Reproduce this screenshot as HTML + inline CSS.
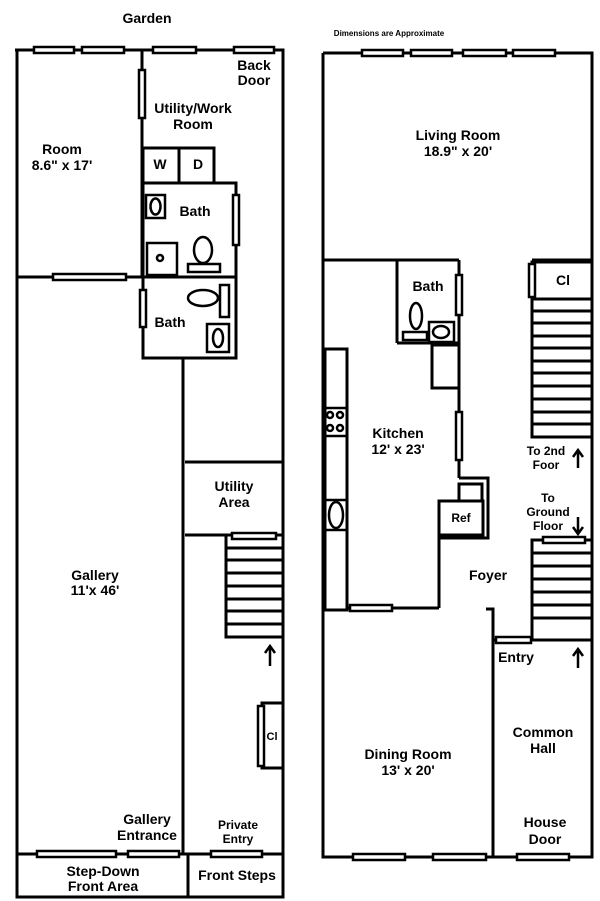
<!DOCTYPE html>
<html><head><meta charset="utf-8"><style>
html,body{margin:0;padding:0;background:#fff;}
svg{display:block;}
text{font-family:"Liberation Sans",sans-serif;font-weight:bold;fill:#000;text-anchor:middle;}
</style></head><body>
<svg width="600" height="901" viewBox="0 0 600 901" xmlns="http://www.w3.org/2000/svg">
<g stroke="#000" stroke-width="3" fill="none">
<!-- LEFT PLAN outer -->
<path d="M15 50 H283 V897 H17 V50"/>
<line x1="142" y1="50" x2="142" y2="277"/>
<line x1="17" y1="277" x2="142" y2="277"/>
<!-- W/D -->
<rect x="143" y="148" width="71" height="35"/>
<line x1="179" y1="148" x2="179" y2="183"/>
<!-- baths -->
<path d="M143 183 H236 V358 H143 V277 H236"/>
<line x1="143" y1="277" x2="143" y2="183"/>
<line x1="183" y1="358" x2="183" y2="854"/>
<!-- utility area -->
<line x1="185" y1="462" x2="283" y2="462"/>
<line x1="185" y1="535" x2="226" y2="535"/>
<!-- stairs -->
<path d="M283 535 H226 V637 H283"/>
<line x1="226" y1="548" x2="283" y2="548"/>
<line x1="226" y1="560" x2="283" y2="560"/>
<line x1="226" y1="573" x2="283" y2="573"/>
<line x1="226" y1="586" x2="283" y2="586"/>
<line x1="226" y1="599" x2="283" y2="599"/>
<line x1="226" y1="611" x2="283" y2="611"/>
<line x1="226" y1="624" x2="283" y2="624"/>
<!-- Cl -->
<path d="M283 703 H262 V768 H283"/>
<!-- bottom -->
<line x1="17" y1="854" x2="283" y2="854"/>
<line x1="188" y1="854" x2="188" y2="897"/>
<!-- RIGHT PLAN outer -->
<path d="M323 53 H592 V857 H323 V53"/>
<line x1="323" y1="260" x2="459" y2="260"/>
<line x1="532" y1="260" x2="592" y2="260"/>
<!-- bath -->
<line x1="397" y1="260" x2="397" y2="343"/>
<line x1="397" y1="343" x2="459" y2="343"/>
<line x1="459" y1="260" x2="459" y2="478"/>
<rect x="432" y="345" width="27" height="43"/>
<!-- kitchen counter -->
<rect x="325" y="349" width="22" height="261"/>
<!-- ref -->
<path d="M459 478 H488 V538 H439 V608"/>
<rect x="459" y="484" width="23" height="17"/>
<rect x="439" y="501" width="44" height="34"/>
<line x1="347" y1="608" x2="439" y2="608"/>
<!-- stairs upper -->
<path d="M592 262 H532 V437 H592"/>
<line x1="532" y1="299" x2="592" y2="299"/>
<line x1="532" y1="311" x2="592" y2="311"/>
<line x1="532" y1="323" x2="592" y2="323"/>
<line x1="532" y1="336" x2="592" y2="336"/>
<line x1="532" y1="348" x2="592" y2="348"/>
<line x1="532" y1="361" x2="592" y2="361"/>
<line x1="532" y1="373" x2="592" y2="373"/>
<line x1="532" y1="386" x2="592" y2="386"/>
<line x1="532" y1="399" x2="592" y2="399"/>
<line x1="532" y1="412" x2="592" y2="412"/>
<line x1="532" y1="424" x2="592" y2="424"/>
<!-- stairs lower -->
<path d="M592 540 H532 V640"/>
<line x1="532" y1="553" x2="592" y2="553"/>
<line x1="532" y1="566" x2="592" y2="566"/>
<line x1="532" y1="579" x2="592" y2="579"/>
<line x1="532" y1="592" x2="592" y2="592"/>
<line x1="532" y1="605" x2="592" y2="605"/>
<line x1="532" y1="618" x2="592" y2="618"/>
<line x1="493" y1="640" x2="592" y2="640"/>
<path d="M486 609 H493 V857"/>
</g>
<!-- windows -->
<g stroke="#000" stroke-width="2.5" fill="#fff">
<rect x="34" y="47" width="40" height="6"/><rect x="82" y="47" width="42" height="6"/><rect x="153" y="47" width="43" height="6"/><rect x="234" y="47" width="40" height="6"/>
<rect x="139" y="70" width="6" height="48"/>
<rect x="53" y="274" width="73" height="6"/>
<rect x="233" y="195" width="6" height="50"/>
<rect x="140" y="290" width="6" height="37"/>
<rect x="232" y="533" width="44" height="6"/>
<rect x="258" y="706" width="6" height="60"/>
<rect x="37" y="851" width="79" height="6"/><rect x="128" y="851" width="51" height="6"/><rect x="211" y="851" width="51" height="6"/>
<rect x="362" y="50" width="41" height="6"/><rect x="411" y="50" width="41" height="6"/><rect x="463" y="50" width="43" height="6"/><rect x="513" y="50" width="42" height="6"/>
<rect x="456" y="275" width="6" height="40"/>
<rect x="456" y="412" width="6" height="48"/>
<rect x="529" y="264" width="6" height="33"/>
<rect x="350" y="605" width="42" height="6"/>
<rect x="543" y="537" width="42" height="6"/>
<rect x="496" y="637" width="35" height="6"/>
<rect x="353" y="854" width="52" height="6"/><rect x="433" y="854" width="53" height="6"/><rect x="517" y="854" width="52" height="6"/>
</g>
<!-- fixtures -->
<g stroke="#000" stroke-width="2.5" fill="none">
<rect x="146" y="195" width="19" height="23"/><ellipse cx="155.5" cy="206.5" rx="5" ry="8"/>
<rect x="147" y="243" width="30" height="32"/><circle cx="160" cy="258" r="3"/>
<ellipse cx="203" cy="250" rx="9" ry="13"/><rect x="188" y="264" width="32" height="8"/>
<ellipse cx="203" cy="298" rx="15" ry="8"/><rect x="220" y="285" width="9" height="32"/>
<rect x="207" y="324" width="22" height="28"/><ellipse cx="218" cy="338" rx="5" ry="9"/>
<ellipse cx="416" cy="316" rx="6" ry="13"/><rect x="403" y="332" width="24" height="8"/>
<rect x="429" y="322" width="25" height="20"/><ellipse cx="441" cy="332" rx="8" ry="6"/>
<circle cx="330" cy="415" r="3"/><circle cx="340" cy="415" r="3"/><circle cx="330" cy="428" r="3"/><circle cx="340" cy="428" r="3"/>
<line x1="325" y1="408" x2="347" y2="408"/><line x1="325" y1="436" x2="347" y2="436"/>
<ellipse cx="336" cy="515" rx="7" ry="13"/><line x1="325" y1="500" x2="347" y2="500"/><line x1="325" y1="530" x2="347" y2="530"/>
</g>
<!-- arrows -->
<g stroke="#000" stroke-width="2.5" fill="none">
<path d="M270 666 V647 M265 653 L270 646 L275 653"/>
<path d="M578 468 V451 M573 457 L578 450 L583 457"/>
<path d="M578 517 V533 M573 527 L578 534 L583 527"/>
<path d="M578 668 V650 M573 656 L578 649 L583 656"/>
</g>
<g font-size="14">
<text x="147" y="23">Garden</text>
<text x="254" y="70">Back</text><text x="254" y="85">Door</text>
<text x="193" y="113">Utility/Work</text><text x="193" y="129">Room</text>
<text x="62" y="154">Room</text><text x="62" y="170">8.6" x 17'</text>
<text x="160" y="169">W</text><text x="198" y="169">D</text>
<text x="195" y="216">Bath</text>
<text x="170" y="327">Bath</text>
<text x="234" y="491">Utility</text><text x="234" y="507">Area</text>
<text x="95" y="580">Gallery</text><text x="95" y="595">11'x 46'</text>
<text x="147" y="824">Gallery</text><text x="147" y="840">Entrance</text>
<text x="238" y="829" font-size="12">Private</text><text x="238" y="843" font-size="12">Entry</text>
<text x="103" y="876">Step-Down</text><text x="103" y="891">Front Area</text>
<text x="237" y="880">Front Steps</text>
<text x="458" y="140">Living Room</text><text x="458" y="156">18.9" x 20'</text>
<text x="428" y="291">Bath</text>
<text x="563" y="285">Cl</text>
<text x="398" y="438">Kitchen</text><text x="398" y="454">12' x 23'</text>
<text x="461" y="522" font-size="12">Ref</text>
<text x="546" y="455" font-size="12">To 2nd</text><text x="546" y="469" font-size="12">Foor</text>
<text x="548" y="502" font-size="12">To</text><text x="548" y="516" font-size="12">Ground</text><text x="548" y="530" font-size="12">Floor</text>
<text x="488" y="580">Foyer</text>
<text x="516" y="662">Entry</text>
<text x="543" y="737">Common</text><text x="543" y="753">Hall</text>
<text x="408" y="759">Dining Room</text><text x="408" y="775">13' x 20'</text>
<text x="545" y="827">House</text><text x="545" y="844">Door</text>
<text x="272" y="740" font-size="11">Cl</text>
<text x="389" y="36" font-size="8" font-weight="normal">Dimensions are Approximate</text>
</g>
</svg>
</body></html>
